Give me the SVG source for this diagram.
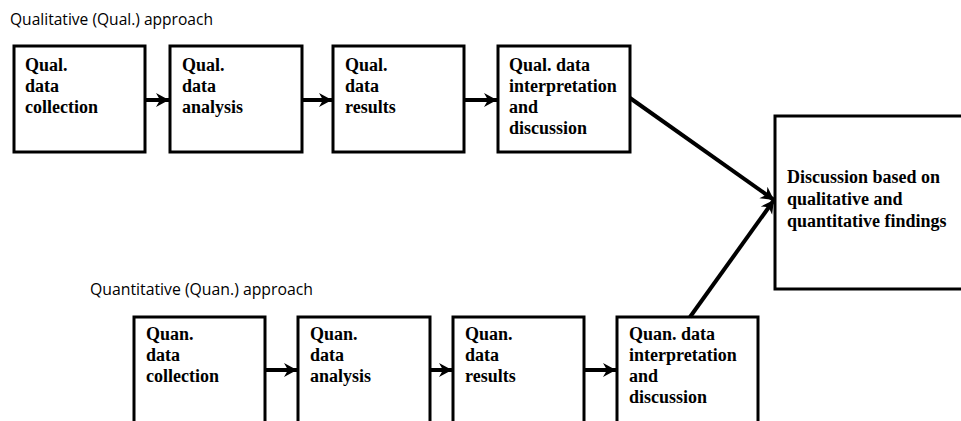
<svg xmlns="http://www.w3.org/2000/svg" width="961" height="421" viewBox="0 0 961 421">
<style>
.box{fill:#fff;stroke:#000;stroke-width:3}
.t{font-family:"Liberation Serif","Times New Roman",serif;font-weight:bold;font-size:18px;fill:#000}
.lbl{font-family:"Open Sans","Liberation Sans",sans-serif;font-size:16px;fill:#000}
.c{stroke:#000;stroke-width:4;fill:none}
</style>
<defs>
<marker id="ah" markerUnits="userSpaceOnUse" markerWidth="16" markerHeight="16" refX="13" refY="8" orient="auto">
<path d="M0,1 L13,8 L0,15 L4,8 Z" fill="#000"/>
</marker>
</defs>
<rect width="961" height="421" fill="#fff"/>
<text class="lbl" x="10" y="25" textLength="203" lengthAdjust="spacingAndGlyphs">Qualitative (Qual.) approach</text>
<text class="lbl" x="90" y="295" textLength="223" lengthAdjust="spacingAndGlyphs">Quantitative (Quan.) approach</text>
<g id="qual1"><rect class="box" x="14" y="46" width="131" height="106"/><text class="t" x="25" y="71">Qual.</text><text class="t" x="25" y="92">data</text><text class="t" x="25" y="113">collection</text></g>
<g id="qual2"><rect class="box" x="170" y="46" width="132" height="106"/><text class="t" x="182" y="71">Qual.</text><text class="t" x="182" y="92">data</text><text class="t" x="182" y="113">analysis</text></g>
<g id="qual3"><rect class="box" x="333" y="46" width="131" height="106"/><text class="t" x="345" y="71">Qual.</text><text class="t" x="345" y="92">data</text><text class="t" x="345" y="113">results</text></g>
<g id="qual4"><rect class="box" x="498" y="46" width="132" height="106"/><text class="t" x="509" y="71">Qual. data</text><text class="t" x="509" y="92">interpretation</text><text class="t" x="509" y="113">and</text><text class="t" x="509" y="134">discussion</text></g>
<g id="final"><rect class="box" x="775" y="116" width="188" height="173"/><text class="t" x="787" y="183">Discussion based on</text><text class="t" x="787" y="205">qualitative and</text><text class="t" x="787" y="227">quantitative findings</text></g>
<g id="quan1"><rect class="box" x="134" y="317" width="131" height="106"/><text class="t" x="146" y="340">Quan.</text><text class="t" x="146" y="361">data</text><text class="t" x="146" y="382">collection</text></g>
<g id="quan2"><rect class="box" x="298" y="317" width="132" height="106"/><text class="t" x="310" y="340">Quan.</text><text class="t" x="310" y="361">data</text><text class="t" x="310" y="382">analysis</text></g>
<g id="quan3"><rect class="box" x="453" y="317" width="131" height="106"/><text class="t" x="465" y="340">Quan.</text><text class="t" x="465" y="361">data</text><text class="t" x="465" y="382">results</text></g>
<g id="quan4"><rect class="box" x="617" y="317" width="141" height="106"/><text class="t" x="629" y="340">Quan. data</text><text class="t" x="629" y="361">interpretation</text><text class="t" x="629" y="382">and</text><text class="t" x="629" y="403">discussion</text></g>
<g id="connectors">
<line class="c" x1="145" y1="100" x2="169" y2="100" marker-end="url(#ah)"/>
<line class="c" x1="302" y1="100" x2="332" y2="100" marker-end="url(#ah)"/>
<line class="c" x1="464" y1="100" x2="497" y2="100" marker-end="url(#ah)"/>
<line class="c" x1="630" y1="98" x2="774" y2="200" marker-end="url(#ah)"/>
<line class="c" x1="690" y1="317" x2="774" y2="200" marker-end="url(#ah)"/>
<line class="c" x1="265" y1="370" x2="297" y2="370" marker-end="url(#ah)"/>
<line class="c" x1="430" y1="370" x2="452" y2="370" marker-end="url(#ah)"/>
<line class="c" x1="584" y1="370" x2="616" y2="370" marker-end="url(#ah)"/>
</g>
</svg>
